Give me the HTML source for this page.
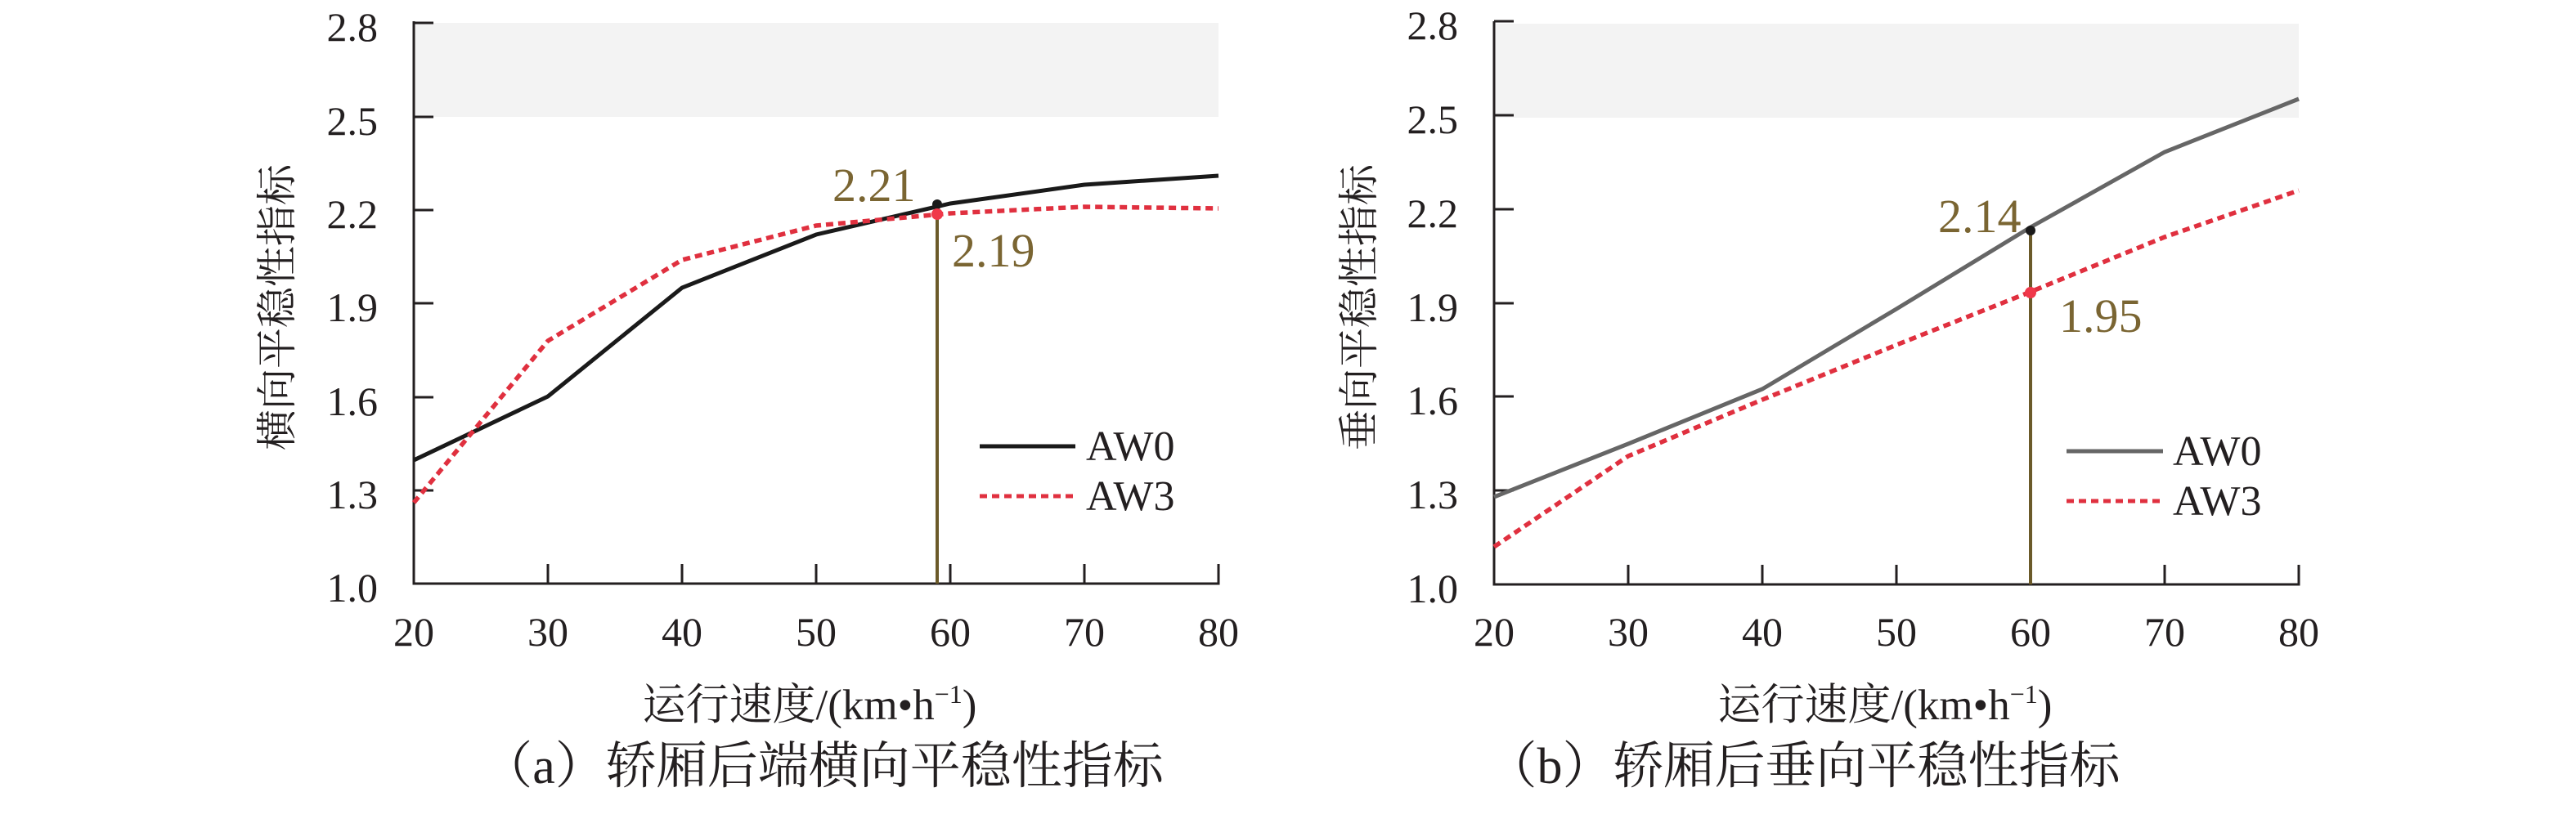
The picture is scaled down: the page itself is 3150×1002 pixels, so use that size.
<!DOCTYPE html>
<html><head><meta charset="utf-8"><style>
html,body{margin:0;padding:0;background:#fff}
svg{display:block}
text{font-family:"Liberation Serif","Noto Serif CJK SC",serif;fill:#231f20}
.cj{font-family:"Liberation Serif","Noto Serif CJK SC","Noto Sans CJK SC",serif}
</style></head><body>
<svg width="3150" height="1002" viewBox="0 0 3150 1002" xmlns="http://www.w3.org/2000/svg">
<!-- Chart A -->
<rect x="506" y="28" width="984" height="115" fill="#f3f3f3"/>
<g stroke="#231f20" stroke-width="3" fill="none">
<path d="M506,26 V714 H1490 V690"/>
<path d="M506,28 h24 M506,143 h24 M506,257 h24 M506,371 h24 M506,486 h24 M506,600 h24"/>
<path d="M670,714 v-24 M834,714 v-24 M998,714 v-24 M1162,714 v-24 M1326,714 v-24"/>
</g>
<g font-size="50" text-anchor="end">
<text x="462" y="50">2.8</text><text x="462" y="165">2.5</text><text x="462" y="279">2.2</text>
<text x="462" y="393">1.9</text><text x="462" y="508">1.6</text><text x="462" y="622">1.3</text><text x="462" y="736">1.0</text>
</g>
<g font-size="50" text-anchor="middle">
<text x="506" y="790">20</text><text x="670" y="790">30</text><text x="834" y="790">40</text><text x="998" y="790">50</text>
<text x="1162" y="790">60</text><text x="1326" y="790">70</text><text x="1490" y="790">80</text>
</g>
<line x1="1146" y1="252" x2="1146" y2="714" stroke="#6b5a2a" stroke-width="4"/>
<polyline points="506,563 670,485 834,352 998,287 1162,249 1326,226 1490,215" fill="none" stroke="#1a1a1a" stroke-width="5"/>
<polyline points="506,615 670,417 834,318 998,276 1162,261 1326,253 1490,255" fill="none" stroke="#e0303f" stroke-width="5.5" stroke-dasharray="9,6"/>
<circle cx="1146" cy="250" r="6" fill="#1a1a1a"/>
<circle cx="1146" cy="262" r="7" fill="#f0384a"/>
<text x="1018" y="246" font-size="58" style="fill:#7a6532">2.21</text>
<text x="1164" y="326" font-size="58" style="fill:#7a6532">2.19</text>
<line x1="1198" y1="546" x2="1315" y2="546" stroke="#1a1a1a" stroke-width="5"/>
<line x1="1198" y1="607" x2="1315" y2="607" stroke="#e0303f" stroke-width="5" stroke-dasharray="9,6"/>
<text x="1328" y="563" font-size="52">AW0</text>
<text x="1328" y="624" font-size="52">AW3</text>
<text class="cj" x="0" y="0" font-size="50" text-anchor="middle" transform="translate(356,376) rotate(-90)">横向平稳性指标</text>
<text class="cj" x="990" y="880" font-size="53" text-anchor="middle">运行速度/(km•h<tspan font-size="32" dy="-20">−1</tspan><tspan dy="20">)</tspan></text>
<text class="cj" x="1006" y="958" font-size="62" text-anchor="middle">（a）轿厢后端横向平稳性指标</text>

<!-- Chart B -->
<rect x="1827" y="29" width="984" height="115" fill="#f3f3f3"/>
<g stroke="#231f20" stroke-width="3" fill="none">
<path d="M1827,26 V715 H2811 V691"/>
<path d="M1827,26 h24 M1827,141 h24 M1827,256 h24 M1827,371 h24 M1827,485 h24 M1827,600 h24"/>
<path d="M1991,715 v-24 M2155,715 v-24 M2319,715 v-24 M2483,715 v-24 M2647,715 v-24"/>
</g>
<g font-size="50" text-anchor="end">
<text x="1783" y="48">2.8</text><text x="1783" y="163">2.5</text><text x="1783" y="278">2.2</text>
<text x="1783" y="393">1.9</text><text x="1783" y="507">1.6</text><text x="1783" y="622">1.3</text><text x="1783" y="737">1.0</text>
</g>
<g font-size="50" text-anchor="middle">
<text x="1827" y="790">20</text><text x="1991" y="790">30</text><text x="2155" y="790">40</text><text x="2319" y="790">50</text>
<text x="2483" y="790">60</text><text x="2647" y="790">70</text><text x="2811" y="790">80</text>
</g>
<line x1="2483" y1="282" x2="2483" y2="715" stroke="#6b5a2a" stroke-width="4"/>
<polyline points="1827,608 1991,543 2155,476 2319,378 2483,278 2647,186 2811,121" fill="none" stroke="#666" stroke-width="5"/>
<polyline points="1827,669 1991,558 2155,489 2319,422 2483,357 2647,290 2811,233" fill="none" stroke="#e0303f" stroke-width="5.5" stroke-dasharray="9,6"/>
<circle cx="2483" cy="282" r="6" fill="#1a1a1a"/>
<circle cx="2483" cy="358" r="7" fill="#f0384a"/>
<text x="2370" y="284" font-size="58" style="fill:#7a6532">2.14</text>
<text x="2518" y="406" font-size="58" style="fill:#7a6532">1.95</text>
<line x1="2527" y1="552" x2="2645" y2="552" stroke="#666" stroke-width="5"/>
<line x1="2527" y1="613" x2="2645" y2="613" stroke="#e0303f" stroke-width="5" stroke-dasharray="9,6"/>
<text x="2657" y="569" font-size="52">AW0</text>
<text x="2657" y="630" font-size="52">AW3</text>
<text class="cj" x="0" y="0" font-size="50" text-anchor="middle" transform="translate(1679,376) rotate(-90)">垂向平稳性指标</text>
<text class="cj" x="2305" y="880" font-size="53" text-anchor="middle">运行速度/(km•h<tspan font-size="32" dy="-20">−1</tspan><tspan dy="20">)</tspan></text>
<text class="cj" x="2205" y="958" font-size="62" text-anchor="middle">（b）轿厢后垂向平稳性指标</text>
</svg>
</body></html>
